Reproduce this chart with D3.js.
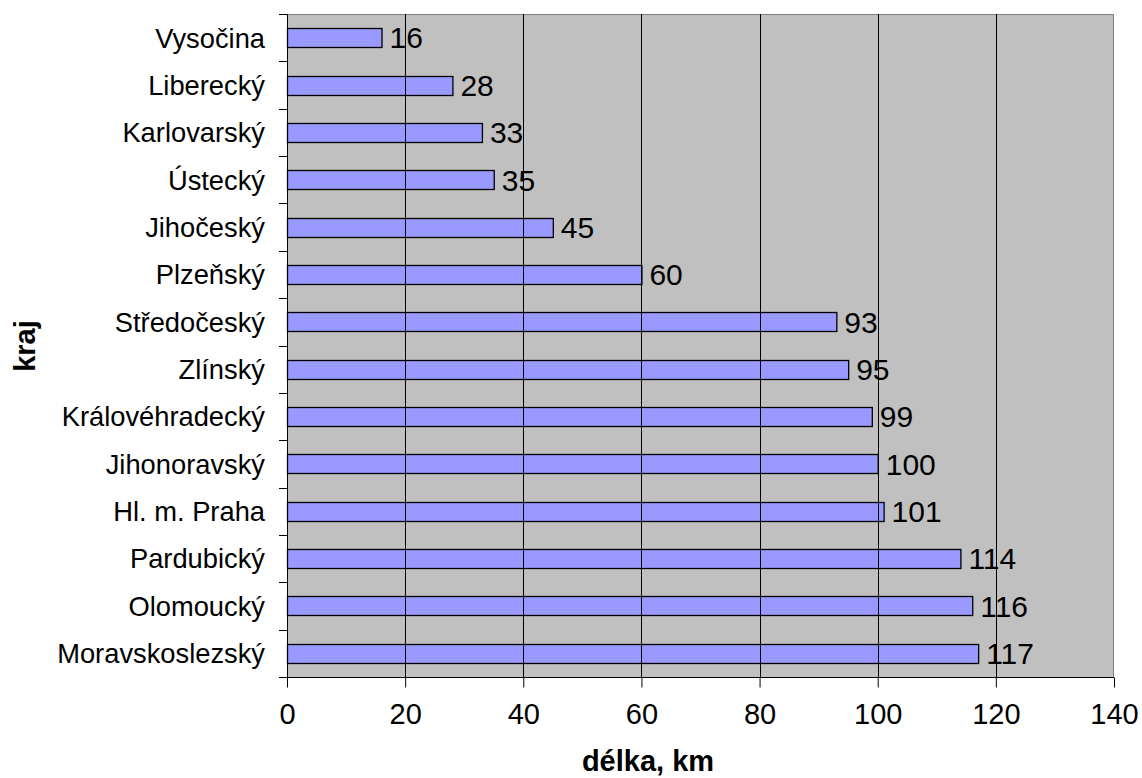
<!DOCTYPE html>
<html>
<head>
<meta charset="utf-8">
<script src="https://cdn.jsdelivr.net/npm/d3@7/dist/d3.min.js"></script>
<style>
  html, body { margin: 0; padding: 0; background: #ffffff; }
  svg { display: block; }
  text { font-family: "Liberation Sans", Arial, sans-serif; fill: #000; }
</style>
</head>
<body>
<svg id="chart" width="1142" height="778"></svg>
<script>
const categories = ["Vysočina", "Liberecký", "Karlovarský", "Ústecký", "Jihočeský", "Plzeňský",
  "Středočeský", "Zlínský", "Královéhradecký", "Jihonoravský", "Hl. m. Praha", "Pardubický",
  "Olomoucký", "Moravskoslezský"];
const values = [16, 28, 33, 35, 45, 60, 93, 95, 99, 100, 101, 114, 116, 117];
const xTicks = [0, 20, 40, 60, 80, 100, 120, 140];
const xTitle = "délka, km";
const yTitle = "kraj";

const svg = d3.select("#chart");
const plot = { left: 287, top: 14, right: 1114, bottom: 677 };

const x = d3.scaleLinear().domain([0, 140]).range([plot.left, plot.right]);
const y = d3.scaleBand().domain(categories).range([plot.top, plot.bottom]).paddingInner(0.6).paddingOuter(0.3);

// plot background
svg.append("rect")
  .attr("x", plot.left).attr("y", plot.top)
  .attr("width", plot.right - plot.left).attr("height", plot.bottom - plot.top)
  .attr("fill", "#c0c0c0");

// border top/right gray
svg.append("path")
  .attr("d", `M${plot.left},${plot.top + 0.5}H${plot.right - 0.5}V${plot.bottom}`)
  .attr("fill", "none").attr("stroke", "#808080").attr("stroke-width", 1);

// bars
svg.append("g").selectAll("rect").data(values).join("rect")
  .attr("x", x(0) + 0.5)
  .attr("y", (d, i) => Math.round(y(categories[i])) + 0.5)
  .attr("width", d => x(d) - x(0))
  .attr("height", Math.round(y.bandwidth()))
  .attr("fill", "#9999ff")
  .attr("stroke", "#000").attr("stroke-width", 1.3);

// value labels
svg.append("g").selectAll("text").data(values).join("text")
  .attr("x", d => x(d) + 8)
  .attr("y", (d, i) => y(categories[i]) + y.bandwidth() / 2)
  .attr("dy", "0.36em")
  .attr("font-size", 30)
  .text(d => d);

// gridlines (drawn over labels as in reference)
svg.append("g").selectAll("line").data(xTicks.filter(t => t > 0 && t < 140)).join("line")
  .attr("x1", d => Math.round(x(d)) + 0.5).attr("x2", d => Math.round(x(d)) + 0.5)
  .attr("y1", plot.top).attr("y2", plot.bottom)
  .attr("stroke", "#000").attr("stroke-width", 1);

// x axis
const xAxis = d3.axisBottom(x).tickValues(xTicks).tickSize(10).tickPadding(16).tickFormat(d3.format("d"));
const gx = svg.append("g").attr("transform", `translate(0,${plot.bottom + 0.5})`).call(xAxis);
gx.select(".domain").attr("stroke", "#000").attr("d", `M${plot.left},0H${plot.right}`);
gx.selectAll(".tick line").attr("stroke", "#000");
gx.selectAll(".tick text").attr("font-size", 29).attr("font-family", "Liberation Sans, Arial, sans-serif").attr("fill", "#000");

// y axis: ticks at band boundaries
const boundaries = categories.map(c => y(c) - y.step() * y.paddingInner() / 2).concat([plot.bottom]);
const gy = svg.append("g");
gy.append("line")
  .attr("x1", plot.left + 0.5).attr("x2", plot.left + 0.5)
  .attr("y1", plot.top).attr("y2", plot.bottom + 10)
  .attr("stroke", "#000");
gy.selectAll("line.tk").data(boundaries).join("line").attr("class", "tk")
  .attr("x1", plot.left - 8).attr("x2", plot.left)
  .attr("y1", d => Math.round(d) + 0.5).attr("y2", d => Math.round(d) + 0.5)
  .attr("stroke", "#000");
gy.selectAll("text").data(categories).join("text")
  .attr("x", 265)
  .attr("y", d => y(d) + y.bandwidth() / 2)
  .attr("dy", "0.36em")
  .attr("text-anchor", "end")
  .attr("font-size", 27.3)
  .text(d => d);

// titles
svg.append("text")
  .attr("x", 648).attr("y", 771)
  .attr("text-anchor", "middle")
  .attr("font-size", 29).attr("font-weight", "bold")
  .text(xTitle);
svg.append("text")
  .attr("transform", "translate(35,346) rotate(-90)")
  .attr("text-anchor", "middle")
  .attr("font-size", 29).attr("font-weight", "bold")
  .text(yTitle);
</script>
</body>
</html>
